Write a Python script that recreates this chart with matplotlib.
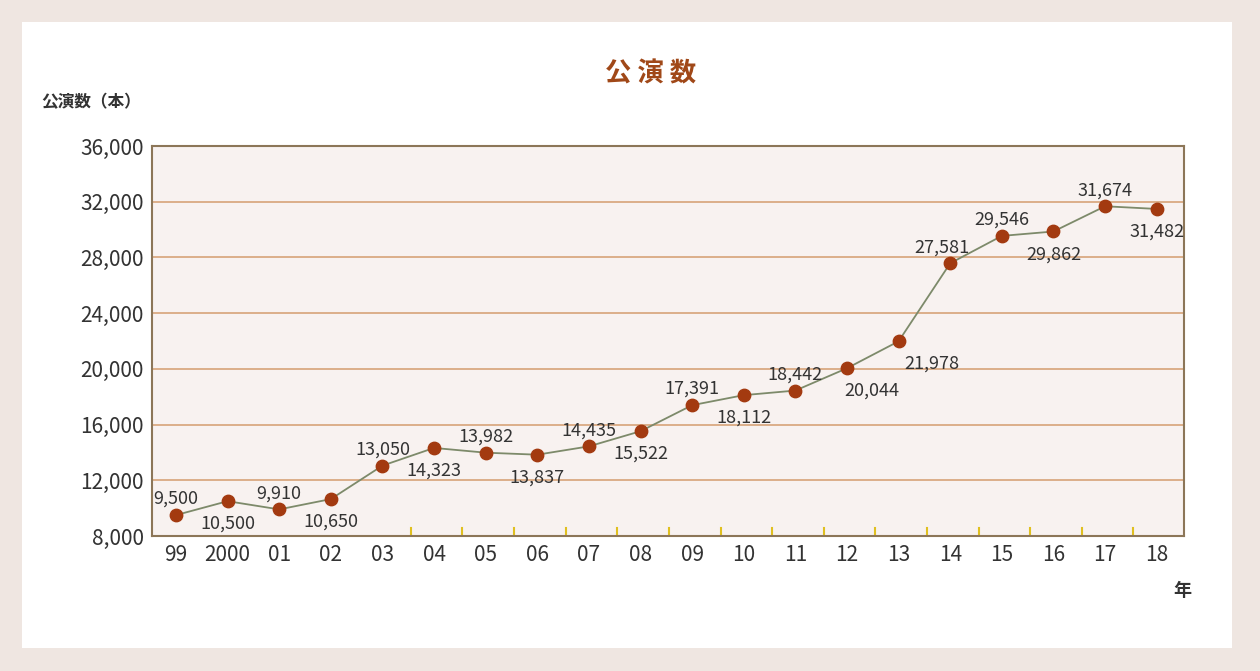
import matplotlib.pyplot as plt
from matplotlib.patches import Rectangle

plt.rcParams['font.family'] = ['Noto Sans CJK JP', 'DejaVu Sans']

years = ['99', '2000', '01', '02', '03', '04', '05', '06', '07', '08',
         '09', '10', '11', '12', '13', '14', '15', '16', '17', '18']
counts = [9500, 10500, 9910, 10650, 13050, 14323, 13982, 13837, 14435, 15522,
          17391, 18112, 18442, 20044, 21978, 27581, 29546, 29862, 31674, 31482]
# label offsets (points)
offsets = [(0, 8), (0, -20), (0, 8), (0, -20), (0, 8), (0, -20), (0, 8), (0, -20),
           (0, 8), (0, -20), (0, 8), (0, -20), (0, 8), (18, -20), (24, -20),
           (-6, 8), (0, 8), (0, -20), (0, 8), (0, -20)]

fig = plt.figure(figsize=(12.6, 6.71), dpi=100, facecolor='#efe6e1')
panel = Rectangle((22 / 1260, 1 - 648 / 671), 1210 / 1260, 626 / 671,
                  transform=fig.transFigure, facecolor='white',
                  edgecolor='none', zorder=-10)
fig.add_artist(panel)
ax = fig.add_axes([0.1206, 0.2012, 0.8191, 0.5812])
ax.set_zorder(1)
ax.set_facecolor('#f8f2f0')

x = list(range(len(years)))
ax.plot(x, counts, color='#7d8a6a', lw=1.3, zorder=3)
ax.scatter(x, counts, s=80, color='#a33a10', zorder=4)
for xi, v, off in zip(x, counts, offsets):
    ax.annotate(f'{v:,}', (xi, v), textcoords='offset points', xytext=off,
                ha='center', fontsize=13, color='#333333', zorder=5)

ax.set_xlim(-0.465, 19.53)
ax.set_ylim(8000, 36000)
ax.set_yticks(range(8000, 36001, 4000))
ax.set_yticklabels([f'{v:,}' for v in range(8000, 36001, 4000)], fontsize=15, color='#333333')
ax.set_xticks(x)
ax.set_xticklabels(years, fontsize=15, color='#333333')
ax.tick_params(length=0, pad=6)
ax.grid(axis='y', color='#d9a982', lw=1.3)
ax.set_axisbelow(True)
for s in ax.spines.values():
    s.set_color('#8c7658')
    s.set_linewidth(1.5)
for k in range(4, 19):
    ax.plot([k + 0.55, k + 0.55], [8000, 8600], color='#e0c020', lw=1.5, zorder=2)

fig.text(0.516, 0.89, '公 演 数', ha='center', va='center', fontsize=19,
         color='#a04818', fontweight='bold')
fig.text(0.033, 0.848, '公演数（本）', ha='left', va='center', fontsize=12,
         color='#333333', fontweight='bold')
fig.text(0.938, 0.12, '年', ha='center', va='center', fontsize=13,
         color='#333333', fontweight='bold')

fig.savefig('out.png', dpi=100, facecolor=fig.get_facecolor())
